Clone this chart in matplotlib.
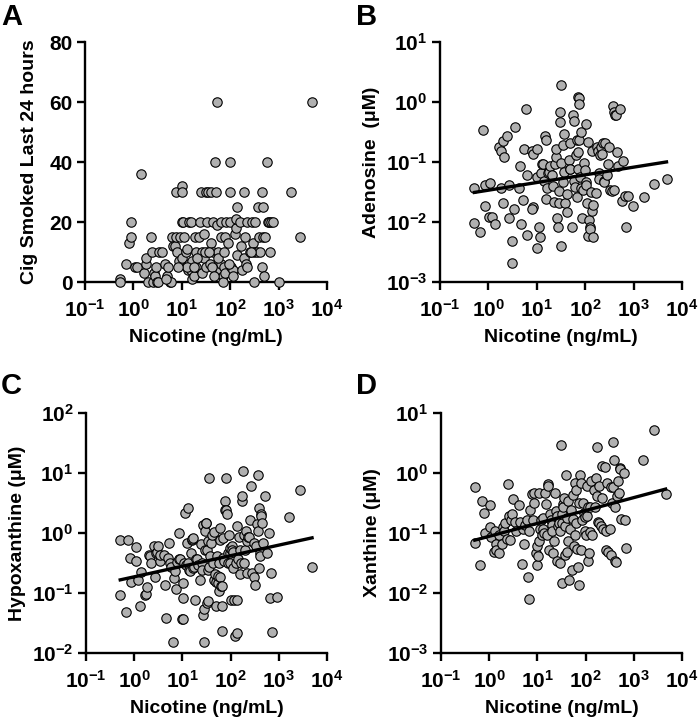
import numpy as np
import matplotlib
matplotlib.use("Agg")
import matplotlib.pyplot as plt
from matplotlib.ticker import LogLocator, NullLocator, FixedLocator

plt.rcParams['font.family'] = ['Liberation Sans', 'DejaVu Sans']
plt.rcParams['font.weight'] = 'bold'
plt.rcParams['mathtext.fontset'] = 'custom'
plt.rcParams['mathtext.rm'] = 'Liberation Sans:bold'
plt.rcParams['mathtext.bf'] = 'Liberation Sans:bold'
plt.rcParams['mathtext.it'] = 'Liberation Sans:bold:italic'

# ---- data (nicotine as log10 ng/mL, metabolites as log10 uM) ----
# Panel A: cigarettes smoked in last 24 h
a_log_nic = [-0.28, -0.28, -0.15, -0.10, -0.05, -0.05, 0.03, 0.08, 0.15, 0.22, 0.25, 0.26,
             0.30, 0.36, 0.38, 0.40, 0.43, 0.45, 0.47, 0.48, 0.50, 0.53, 0.60, 0.65, 0.70,
             0.72, 0.75, 0.78, 0.80, 0.82, 0.85, 0.88, 0.88, 0.90, 0.95, 0.97, 1.00, 1.00,
             1.00, 1.00, 1.02, 1.05, 1.08, 1.10, 1.12, 1.15, 1.18, 1.15, 1.20, 1.22, 1.22,
             1.25, 1.28, 1.30, 1.30, 1.35, 1.38, 1.40, 1.42, 1.42, 1.45, 1.45, 1.50, 1.50,
             1.52, 1.55, 1.55, 1.58, 1.60, 1.60, 1.65, 1.65, 1.68, 1.70, 1.70, 1.72, 1.72,
             1.75, 1.78, 1.80, 1.80, 1.82, 1.85, 1.85, 1.88, 1.90, 1.90, 1.92, 1.95, 2.00,
             2.00, 2.00, 2.02, 2.05, 2.05, 2.10, 2.12, 2.13, 2.15, 2.15, 2.20, 2.22, 2.25,
             2.28, 2.28, 2.30, 2.32, 2.35, 2.35, 2.40, 2.45, 2.48, 2.50, 2.50, 2.52, 2.55,
             2.58, 2.60, 2.62, 2.65, 2.65, 2.67, 2.68, 2.70, 2.72, 2.75, 2.78, 2.80, 2.82,
             2.85, 2.88, 3.00, 3.25, 3.45, 3.70, 1.10, 1.32, 1.48, 1.62, 1.75, 1.87, 0.68,
             0.92, 1.26, 1.57, 1.67, 1.97, 2.42]
a_cigs = [1, 0, 6, 13, 15, 20, 5, 5, 36, 3, 6, 8,
          0, 15, 10, 0, 3, 2, 5, 0, 0, 10, 10, 6, 2,
          5, 0, 0, 15, 12, 12, 15, 30, 10, 7, 15, 32, 30,
          20, 8, 20, 15, 10, 11, 4, 20, 20, 6, 4, 7, 1,
          2, 15, 10, 5, 15, 20, 30, 10, 3, 16, 8, 30, 5,
          20, 10, 30, 6, 30, 13, 20, 10, 40, 3, 30, 19, 60,
          10, 4, 20, 6, 15, 2, 0, 5, 15, 3, 20, 13, 20,
          30, 40, 5, 4, 2, 16, 18, 21, 25, 9, 20, 12, 4,
          30, 8, 15, 6, 20, 5, 10, 20, 13, 0, 10, 20, 10,
          25, 15, 10, 30, 5, 25, 15, 2, 15, 40, 20, 20, 10,
          20, 20, 0, 30, 15, 60, 5, 8, 10, 5, 8, 10, 1,
          5, 5, 10, 2, 6, 10]

# Panel B: adenosine
b_log_nic = [-0.29, -0.29, -0.17, -0.12, -0.07, -0.07, 0.03, 0.01, 0.08, 0.14, 0.22, 0.26,
             0.31, 0.32, 0.38, 0.26, 0.31, 0.43, 0.43, 0.48, 0.48, 0.52, 0.54, 0.64, 0.66,
             0.68, 0.71, 0.74, 0.77, 0.79, 0.80, 0.90, 0.92, 0.93, 0.90, 1.00, 1.01, 1.00,
             1.04, 1.07, 1.08, 1.10, 1.12, 1.14, 1.17, 1.19, 1.19, 1.21, 1.23, 1.26, 1.28,
             1.31, 1.33, 1.36, 1.38, 1.39, 1.40, 1.41, 1.43, 1.45, 1.45, 1.47, 1.48, 1.50,
             1.50, 1.51, 1.54, 1.55, 1.57, 1.57, 1.59, 1.62, 1.63, 1.66, 1.68, 1.69, 1.69,
             1.72, 1.74, 1.76, 1.77, 1.79, 1.81, 1.83, 1.83, 1.85, 1.85, 1.86, 1.88, 1.88,
             1.88, 1.90, 1.91, 1.92, 1.93, 1.95, 1.97, 2.00, 2.01, 2.02, 2.02, 2.03, 2.05,
             2.05, 2.07, 2.09, 2.10, 2.12, 2.14, 2.14, 2.16, 2.17, 2.23, 2.24, 2.26, 2.28,
             2.28, 2.30, 2.32, 2.34, 2.37, 2.38, 2.39, 2.41, 2.45, 2.48, 2.50, 2.52, 2.55,
             2.57, 2.59, 2.60, 2.62, 2.63, 2.66, 2.68, 2.72, 2.76, 2.78, 2.83, 2.85, 2.88,
             2.99, 3.22, 3.43, 3.68]
b_log_ado = [-1.44, -2.02, -2.17, -0.47, -1.38, -1.73, -1.35, -1.91, -1.92, -2.04, -0.75, -0.81,
             -0.65, -0.91, -0.56, -1.44, -1.69, -1.39, -1.94, -2.31, -2.68, -1.79, -0.41, -1.44, -1.06,
             -2.03, -1.64, -0.79, -0.12, -1.21, -2.22, -0.81, -0.86, -1.75, -1.78, -1.25, -0.79, -2.44,
             -2.09, -2.25, -1.18, -1.03, -1.04, -1.31, -0.56, -0.64, -1.61, -1.44, -1.19, -1.17, -1.07,
             -1.22, -1.40, -1.66, -1.03, -0.92, -0.78, -1.94, -2.08, -1.49, -1.69, -0.33, -0.17, 0.29,
             -1.02, -2.40, -0.71, -1.33, -1.17, -0.53, -1.69, -1.83, -1.53, -0.97, -1.11, -1.11, -0.68,
             -2.08, -0.22, -0.32, -1.31, -1.42, -0.88, -1.58, -0.64, -0.83, -1.11, 0.08, 0.06, -0.04,
             -0.64, -1.25, -1.43, -0.50, -1.94, -1.47, -1.02, -1.14, -1.33, -0.36, -1.39, -1.69, -0.67,
             -2.23, -1.97, -2.08, -2.11, -1.50, -0.81, -1.82, -2.25, -1.72, -1.52, -0.75, -0.81, -1.19,
             -1.29, -0.89, -0.75, -0.86, -0.69, -1.31, -1.33, -0.69, -1.21, -1.03, -0.75, -1.47, -1.49,
             -0.07, -1.47, -0.16, -0.22, -0.22, -0.83, -1.06, -0.11, -1.65, -0.98, -1.57, -2.08, -1.57,
             -1.73, -1.58, -1.37, -1.29]
b_fit = [0.128, -1.47]   # slope, intercept (log-log)

# Panel C: hypoxanthine
c_log_nic = [-0.29, -0.29, -0.17, -0.12, -0.08, -0.07, 0.03, 0.03, 0.07, 0.12, 0.15, 0.23, 0.24,
             0.26, 0.31, 0.33, 0.35, 0.41, 0.44, 0.46, 0.48, 0.50, 0.53, 0.54, 0.61, 0.63, 0.66,
             0.70, 0.73, 0.75, 0.76, 0.80, 0.82, 0.84, 0.87, 0.89, 0.92, 0.93, 0.95, 0.99, 1.01,
             1.02, 1.02, 1.04, 1.06, 1.08, 1.09, 1.11, 1.11, 1.13, 1.16, 1.18, 1.19, 1.20, 1.22,
             1.23, 1.25, 1.27, 1.29, 1.30, 1.33, 1.37, 1.38, 1.40, 1.40, 1.42, 1.42, 1.44, 1.45,
             1.47, 1.47, 1.49, 1.49, 1.51, 1.52, 1.54, 1.54, 1.54, 1.56, 1.56, 1.58, 1.59, 1.61,
             1.63, 1.65, 1.66, 1.68, 1.70, 1.70, 1.72, 1.73, 1.74, 1.75, 1.76, 1.77, 1.78, 1.78,
             1.80, 1.82, 1.82, 1.83, 1.84, 1.85, 1.87, 1.89, 1.89, 1.91, 1.91, 1.92, 1.94, 1.95,
             1.96, 1.98, 1.99, 1.99, 2.01, 2.02, 2.03, 2.05, 2.06, 2.08, 2.10, 2.12, 2.13, 2.13,
             2.14, 2.16, 2.17, 2.19, 2.20, 2.21, 2.23, 2.24, 2.25, 2.27, 2.28, 2.30, 2.32, 2.34,
             2.35, 2.37, 2.39, 2.41, 2.42, 2.44, 2.48, 2.49, 2.51, 2.53, 2.55, 2.56, 2.57, 2.58,
             2.59, 2.60, 2.61, 2.63, 2.64, 2.66, 2.68, 2.72, 2.75, 2.79, 2.82, 2.84, 2.86, 2.96,
             3.22, 3.44, 3.69]
c_log_hx = [-1.04, -0.11, -1.32, -0.11, -0.41, -0.81, -0.24, -0.47, -0.78, -1.21, -0.65, -1.03, -1.02,
            -0.90, -0.37, -0.39, -0.50, -0.21, -0.74, -0.33, -0.32, -0.22, -0.46, -0.37, -0.37, -0.86, -1.41,
            -0.42, -0.16, -0.50, -0.56, -1.82, -0.75, -0.63, -0.93, -0.48, 0.00, -0.44, -0.43, -1.44, -1.44,
            -1.09, -0.83, -0.50, 0.34, -0.53, -0.17, -0.50, 0.42, -0.61, -0.64, -0.33, -0.11, -0.10, -0.58,
            -0.09, -0.57, -1.12, -0.44, -0.44, -0.53, -0.78, -0.19, -0.50, -0.61, -1.37, 0.14, -1.26, -1.82,
            -0.28, 0.03, 0.16, 0.16, -0.28, -1.17, -0.14, -0.61, -1.14, 0.92, -0.56, -0.39, -0.17, -0.03,
            -0.50, 0.01, -0.78, -0.69, -0.81, -1.21, -0.39, -0.83, -0.72, -0.97, -0.50, -0.11, 0.09, -0.74,
            -0.88, -0.89, -1.22, -1.63, -0.09, -0.42, -0.47, 0.53, 0.39, 0.39, 0.91, 0.32, -0.50, -0.33,
            -0.03, -0.50, -0.33, -0.25, -1.11, -0.22, -0.28, -0.31, -0.58, -1.11, -1.72, -0.50, 0.12, -1.11,
            -1.66, -0.43, -0.06, -0.68, -0.28, -0.50, 0.53, 0.61, 1.03, -0.03, -0.50, -0.28, 0.03, -0.14,
            -0.66, -0.06, -0.06, 0.21, 0.79, -0.67, -0.17, -0.74, -0.86, -0.22, 0.15, 0.97, 0.03, 0.42,
            -0.58, -0.34, -0.39, 0.32, 0.29, 0.16, -0.17, 0.62, -0.33, 0.00, -1.08, -0.67, -1.65, -1.06,
            0.27, 0.71, -0.56]
c_fit = [0.176, -0.73]

# Panel D: xanthine
d_log_nic = [-0.30, -0.30, -0.19, -0.14, -0.10, -0.08, 0.01, 0.02, 0.04, 0.09, 0.12, 0.14, 0.15,
             0.21, 0.21, 0.26, 0.28, 0.30, 0.33, 0.37, 0.40, 0.41, 0.43, 0.45, 0.47, 0.50, 0.53,
             0.56, 0.61, 0.64, 0.68, 0.70, 0.72, 0.74, 0.78, 0.81, 0.83, 0.83, 0.85, 0.88, 0.90,
             0.92, 0.93, 0.97, 0.99, 1.00, 1.01, 1.03, 1.04, 1.06, 1.07, 1.09, 1.11, 1.12, 1.14,
             1.16, 1.18, 1.19, 1.21, 1.23, 1.25, 1.26, 1.28, 1.30, 1.31, 1.33, 1.34, 1.37, 1.38,
             1.40, 1.41, 1.43, 1.44, 1.46, 1.47, 1.48, 1.50, 1.50, 1.52, 1.53, 1.54, 1.55, 1.57,
             1.57, 1.59, 1.61, 1.62, 1.63, 1.64, 1.66, 1.68, 1.70, 1.71, 1.73, 1.74, 1.76, 1.77,
             1.79, 1.80, 1.81, 1.83, 1.84, 1.86, 1.87, 1.88, 1.90, 1.91, 1.92, 1.94, 1.97, 1.98,
             1.99, 2.01, 2.02, 2.03, 2.05, 2.06, 2.08, 2.09, 2.10, 2.12, 2.14, 2.17, 2.19, 2.21,
             2.23, 2.24, 2.26, 2.27, 2.28, 2.31, 2.33, 2.35, 2.37, 2.40, 2.42, 2.43, 2.45, 2.47,
             2.50, 2.52, 2.52, 2.54, 2.56, 2.57, 2.59, 2.61, 2.62, 2.63, 2.66, 2.68, 2.70, 2.71,
             2.72, 2.74, 2.80, 2.81, 2.83, 3.19, 3.41, 3.66]
d_log_xa = [-1.17, -0.23, -1.53, -0.46, -0.66, -1.00, -0.54, -0.90, -1.07, -1.32, -0.97, -1.19, -1.28,
            -1.34, -1.03, -1.18, -0.90, -0.97, -0.84, -1.10, -0.18, -0.71, -1.12, -0.79, -0.68, -0.44, -0.82,
            -0.97, -0.53, -0.81, -1.52, -0.94, -1.18, -0.87, -0.79, -1.74, -0.97, -2.10, -0.61, -0.35, -0.78,
            -0.34, -0.50, -1.34, -1.54, -1.21, -1.39, -1.14, -0.33, -0.94, -0.78, -1.03, -0.75, -0.94, -1.00,
            -0.34, -0.51, -1.03, -0.18, -0.22, -1.28, -0.69, -0.78, -0.86, -0.97, -1.33, -1.14, -0.33, -0.64,
            -0.72, -1.47, -0.89, -0.83, -1.50, -0.96, 0.47, -1.84, -0.84, -0.69, -0.51, -0.56, -0.42, -0.89,
            -1.36, -0.03, -0.75, -1.31, -0.47, -1.14, -1.78, -0.94, -0.61, -1.61, -0.36, -0.77, -1.21, -1.03,
            -0.17, -0.83, -0.28, -1.27, -1.57, -1.86, -0.50, -0.04, -0.17, -1.28, -0.78, -0.50, -0.67, -0.74,
            -0.97, -1.03, -0.72, -0.22, -0.56, -1.46, -1.34, -0.99, -0.56, -0.14, -1.03, -0.28, -0.56, -0.08,
            -0.39, 0.43, -0.82, -0.84, -0.22, -0.89, 0.12, -0.42, -0.94, 0.10, -0.97, -1.28, -0.17, -1.32,
            -0.94, -0.24, -1.37, -0.50, 0.51, -0.23, 0.22, -1.47, -0.57, -1.48, -0.39, -0.14, -0.33, 0.08,
            0.06, -0.77, 0.00, -0.79, -1.25, 0.21, 0.71, -0.35]
d_fit = [0.215, -1.055]

fill = '#b0b0b0'
dot = dict(s=46, c=fill, edgecolors='black', linewidths=0.8, zorder=3, clip_on=False)


def style_axes(ax):
    for side in ['top', 'right']:
        ax.spines[side].set_visible(False)
    for side in ['left', 'bottom']:
        ax.spines[side].set_linewidth(1.7)
    ax.set_xscale('log')
    ax.set_xlim(1e-1, 1e4)
    ax.xaxis.set_major_locator(LogLocator(base=10, numticks=10))
    ax.xaxis.set_minor_locator(NullLocator())
    ax.tick_params(which='major', length=6, width=1.7, labelsize=15, pad=3)
    ax.tick_params(axis='x', pad=6)
    ax.set_xlabel('Nicotine (ng/mL)', fontsize=14, fontweight='bold', labelpad=6)


def log_panel(ax, lx, ly, fit, ylo, yhi, ylabel):
    nic = 10 ** np.array(lx)
    conc = 10 ** np.array(ly)
    ax.scatter(nic, conc, **dot)
    xs = np.array([min(lx), max(lx)])
    ax.plot(10 ** xs, 10 ** (fit[0] * xs + fit[1]), color='black', lw=2.4, zorder=4)
    style_axes(ax)
    ax.set_yscale('log')
    ax.set_ylim(ylo, yhi)
    ax.yaxis.set_major_locator(LogLocator(base=10, numticks=10))
    ax.yaxis.set_minor_locator(NullLocator())
    ax.set_ylabel(ylabel, fontsize=14, fontweight='bold', labelpad=4)


fig = plt.figure(figsize=(7.0, 7.21), dpi=100)
W, H = 700.0, 721.0
axA = fig.add_axes([85 / W, 1 - 282 / H, 242 / W, 240 / H])
axB = fig.add_axes([440 / W, 1 - 282 / H, 242 / W, 240 / H])
axC = fig.add_axes([86 / W, 1 - 653 / H, 241 / W, 240 / H])
axD = fig.add_axes([441 / W, 1 - 653 / H, 241 / W, 240 / H])

# A
axA.scatter(10 ** np.array(a_log_nic), a_cigs, **dot)
style_axes(axA)
axA.set_ylim(0, 80)
axA.yaxis.set_major_locator(FixedLocator([0, 20, 40, 60, 80]))
axA.set_ylabel('Cig Smoked Last 24 hours', fontsize=14, fontweight='bold', labelpad=8)

log_panel(axB, b_log_nic, b_log_ado, b_fit, 1e-3, 1e1, 'Adenosine  (\u03bcM)')
log_panel(axC, c_log_nic, c_log_hx, c_fit, 1e-2, 1e2, 'Hypoxanthine (\u03bcM)')
log_panel(axD, d_log_nic, d_log_xa, d_fit, 1e-3, 1e1, 'Xanthine (\u03bcM)')

for lab, (x, y) in zip('ABCD', [(1, 3), (356, 3), (1, 372), (356, 372)]):
    fig.text(x / W, 1 - y / H, lab, fontsize=21, fontweight='bold', va='top', ha='left')

fig.savefig('out.png', dpi=100)
